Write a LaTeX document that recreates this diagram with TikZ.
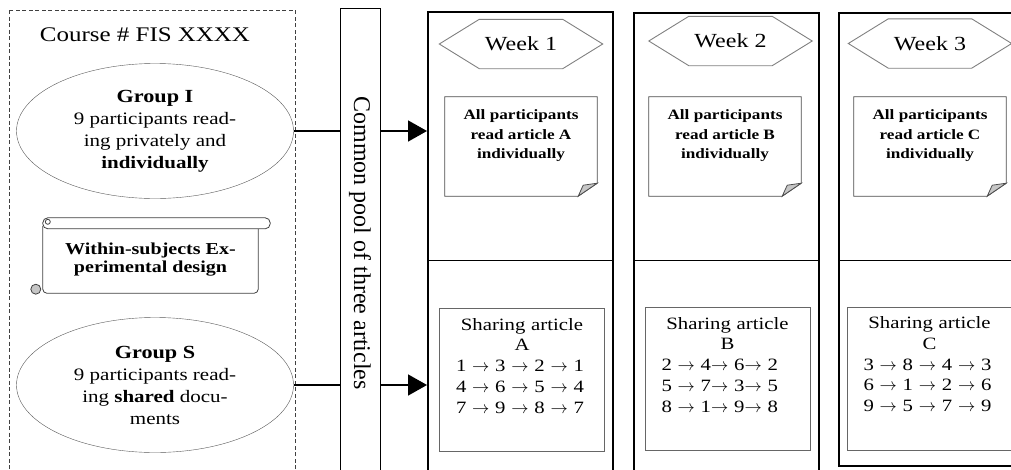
\documentclass[tikz,border=0pt]{standalone}
\usepackage{fontspec}
\setmainfont{Liberation Serif}[FakeStretch=1.2]
\newfontfamily\poolfont{Liberation Serif}
\usetikzlibrary{
  arrows.meta,
  positioning,
  shapes.geometric
}
\newcommand{\passto}{$\rightarrow$}
\newcommand{\dogear}[1]{%
  \draw[notepen] (#1.north west) -- (#1.north east)
    -- ([yshift=13pt]#1.south east) -- ([xshift=-19pt]#1.south east)
    -- (#1.south west) -- cycle;
  \filldraw[notepen, fill=gray!45] ([yshift=13pt]#1.south east)
    -- ([xshift=-14pt,yshift=11pt]#1.south east)
    -- ([xshift=-19pt]#1.south east) -- cycle;}
\newcommand{\weekframe}[1]{%
  \draw[tagpen] (#1.west) -- ([xshift=40pt]#1.north west)
    -- ([xshift=-40pt]#1.north east) -- (#1.east)
    -- ([xshift=-40pt]#1.south east) -- ([xshift=40pt]#1.south west)
    -- cycle;}

\begin{document}
\begin{tikzpicture}[x=1pt, y=-1pt,
  every node/.style = {inner sep=0pt},
  groupbox/.style = {ellipse, draw=black!65, minimum width=277pt,
    minimum height=135pt, align=center,
    font=\fontsize{17.5}{22}\selectfont},
  poolbox/.style = {draw, rotate=-90, minimum width=470pt,
    minimum height=40pt, font=\poolfont\fontsize{24}{26}\selectfont},
  scrollbox/.style = {minimum width=215pt, minimum height=67pt,
    align=center, font=\bfseries\fontsize{16.7}{18}\selectfont},
  scrollpen/.style = {draw=black!75, line width=0.8pt},
  weekbox/.style = {draw, line width=2pt, minimum width=185pt},
  weektag/.style = {minimum width=163pt, minimum height=49pt,
    font=\fontsize{20}{22}\selectfont},
  tagpen/.style = {draw=black!50, line width=0.9pt},
  notebox/.style = {minimum width=152pt, minimum height=99pt},
  notepen/.style = {draw=black!70, line width=0.8pt},
  notetext/.style = {align=center,
    font=\bfseries\fontsize{14.3}{19.5}\selectfont},
  sharebox/.style = {draw=black!60, line width=1pt,
    minimum width=165pt, minimum height=143pt},
  sharetext/.style = {text width=132pt, align=left,
    font=\fontsize{17.3}{20.7}\selectfont},
  link/.style = {line width=1.6pt},
  flow/.style = {line width=1.6pt, -{Triangle[length=19pt,width=21pt]}}]
  \path[use as bounding box, clip] (0,0) rectangle (1011,469);

  % course and its two groups
  \draw[dashed, dash pattern=on 4pt off 2.5pt, black!75]
    (9,10) rectangle (295,480);
  \node[font=\fontsize{20.8}{24}\selectfont] (course) at (145,35)
    {Course \# FIS XXXX};
  \node[groupbox] (grpI) at (155,131)
    {{\fontsize{18.5}{22}\selectfont\bfseries Group I}\\
     9 participants read-\\ing privately and\\\textbf{individually}};
  \node[groupbox] (grpS) at (155,385)
    {{\fontsize{18.5}{22}\selectfont\bfseries Group S}\\
     9 participants read-\\ing \textbf{shared} docu-\\ments};

  % scroll
  \node[scrollbox] (design) at (150.5,259.5)
    {Within-subjects Ex-\\perimental design};
  \draw[scrollpen, rounded corners=4pt] (design.north west)
    -- (design.south west) -- (design.south east) -- (design.north east);
  \draw[scrollpen, fill=white, rounded corners=5pt]
    ([yshift=8pt]design.north west)
    rectangle ([xshift=12pt,yshift=-3pt]design.north east);
  \draw[scrollpen] ([xshift=5pt,yshift=4pt]design.north west) circle (2.5pt);
  \draw[scrollpen, fill=gray!45]
    ([xshift=-7pt,yshift=4pt]design.south west) circle (5pt);

  % common pool
  \node[poolbox] (pool) at (360,243) {Common pool of three articles};

  % weeks
  \coordinate (mid) at (0,260);
  \node[weekbox, minimum height=470pt] (week1) at (520.5,247) {};
  \node[weekbox, minimum height=470pt] (week2) at (726.5,248) {};
  \node[weekbox, minimum height=453pt] (week3) at (931.5,239.5) {};
  \draw (week1.west |- mid) -- (week1.east |- mid);
  \draw (week2.west |- mid) -- (week2.east |- mid);
  \draw (week3.west |- mid) -- (week3.east |- mid);

  \node[weektag] (tag1) at (521,44) {Week 1};
  \node[weektag] (tag2) at (730.5,41) {Week 2};
  \node[weektag] (tag3) at (930,43.5) {Week 3};
  \weekframe{tag1}
  \weekframe{tag2}
  \weekframe{tag3}

  % individual reading
  \node[notebox] (note1) at (521,146.5) {};
  \node[notebox] (note2) at (725,146.5) {};
  \node[notebox] (note3) at (930,146.5) {};
  \dogear{note1}
  \dogear{note2}
  \dogear{note3}
  \node[notetext, below=13pt of note1.north] (read1)
    {All participants\\read article A\\individually};
  \node[notetext, below=13pt of note2.north] (read2)
    {All participants\\read article B\\individually};
  \node[notetext, below=13pt of note3.north] (read3)
    {All participants\\read article C\\individually};

  % shared reading
  \node[sharebox] (share1) at (522,380) {};
  \node[sharebox] (share2) at (727.5,379) {};
  \node[sharebox] (share3) at (929.5,378.5) {};
  \node[sharetext, below=10pt of share1.north] (seq1)
    {{\centering Sharing article\\A\par}
     1 \passto{} 3 \passto{} 2 \passto{} 1\\
     4 \passto{} 6 \passto{} 5 \passto{} 4\\
     7 \passto{} 9 \passto{} 8 \passto{} 7};
  \node[sharetext, below=10pt of share2.north] (seq2)
    {{\centering Sharing article\\B\par}
     2 \passto{} 4\passto{} 6\passto{} 2\\
     5 \passto{} 7\passto{} 3\passto{} 5\\
     8 \passto{} 1\passto{} 9\passto{} 8};
  \node[sharetext, below=10pt of share3.north] (seq3)
    {{\centering Sharing article\\C\par}
     3 \passto{} 8 \passto{} 4 \passto{} 3\\
     6 \passto{} 1 \passto{} 2 \passto{} 6\\
     9 \passto{} 5 \passto{} 7 \passto{} 9};

  % connectors
  \draw[link] (grpI.east) -- (grpI.east -| pool.south);
  \draw[flow] (grpI.east -| pool.north) -- (grpI.east -| week1.west);
  \draw[link] (grpS.east) -- (grpS.east -| pool.south);
  \draw[flow] (grpS.east -| pool.north) -- (grpS.east -| week1.west);
\end{tikzpicture}
\end{document}
